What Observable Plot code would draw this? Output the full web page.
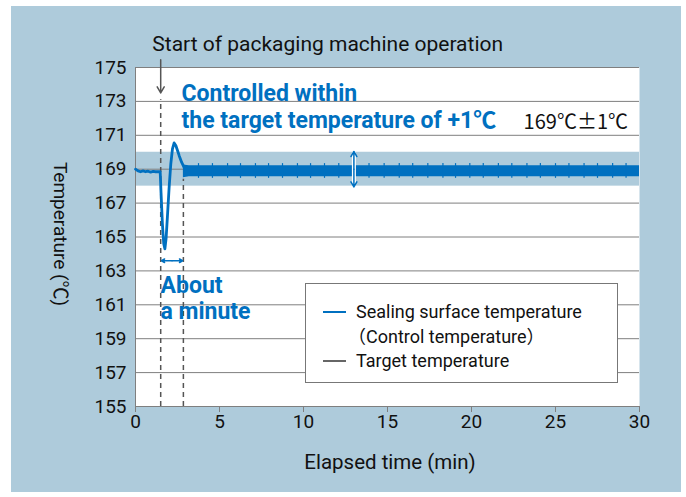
<!DOCTYPE html>
<html><head><meta charset="utf-8">
<script src="https://cdn.jsdelivr.net/npm/d3@7"></script>
<script src="https://cdn.jsdelivr.net/npm/@observablehq/plot@0.6"></script>
<style>
body{margin:0;font-family:Roboto,"Noto Sans CJK JP",sans-serif;}
#wrap{position:relative;width:686px;height:497px;background:#fff;overflow:hidden}
#bg{position:absolute;left:11px;top:6px;width:670px;height:486px;background:#aecbdb}
#chart{position:absolute;left:0;top:0}
#legend{position:absolute;left:305px;top:283px;width:311px;height:98px;background:#fff;border:1.5px solid #777;font-size:18px;color:#111}
.lrow{position:absolute;left:17px;display:flex;align-items:center;white-space:nowrap}
.sw{width:23px;height:2px;margin-right:10px}
#ylab{position:absolute;left:62px;top:234px;transform:translate(-50%,-50%) rotate(90deg);font-size:19px;white-space:nowrap;color:#111}
#xlab{position:absolute;left:390px;top:462px;transform:translate(-50%,-50%);font-size:20.5px;white-space:nowrap;color:#111}
</style></head>
<body>
<div id="wrap">
<div id="bg"></div>
<div id="chart"></div>
<div id="legend">
  <div class="lrow" style="top:17px"><div class="sw" style="background:#0070c0"></div><span>Sealing surface temperature</span></div>
  <div class="lrow" style="top:38px;left:42px"><span>（Control temperature）</span></div>
  <div class="lrow" style="top:66px"><div class="sw" style="background:#666"></div><span>Target temperature</span></div>
</div>
<div id="ylab">Temperature (℃)</div>
<div id="xlab">Elapsed time (min)</div>
</div>
<script>
// ---- data ----
const xTicks = [0, 5, 10, 15, 20, 25, 30];
const yTicks = [155, 157, 159, 161, 163, 165, 167, 169, 171, 173, 175];
const targetBand = [168, 170];          // 169 ± 1 ℃
const startTime = 1.5;                  // machine start
const settleTime = 2.85;                // back within band
// before start + transient (min, ℃)
const traceT = [0, 0.15, 0.3, 0.45, 0.6, 0.75, 0.9, 1.05, 1.2, 1.35, 1.47, 1.52, 1.6, 1.68, 1.75, 1.82, 1.9, 2.0, 2.1, 2.2, 2.3, 2.4, 2.5, 2.6, 2.75, 2.9, 3.0];
const traceV = [169.0, 168.9, 168.85, 168.9, 168.85, 168.88, 168.83, 168.87, 168.85, 168.85, 168.85, 167.6, 165.8, 164.6, 164.3, 164.9, 166.2, 167.9, 169.3, 170.2, 170.55, 170.4, 170.1, 169.8, 169.4, 169.1, 168.95];
// envelope of the controlled (noisy) signal
const envT = [2.85, 3.2, 4, 10, 20, 30];
const envHi = [169.25, 169.2, 169.2, 169.2, 169.2, 169.2];
const envLo = [168.5, 168.55, 168.55, 168.55, 168.55, 168.55];
// small spikes seen in the signal
const spikeT = [3.75, 4.58, 5.48, 6.25, 7.14, 7.92, 8.75, 9.64, 10.42, 11.25, 12.1, 13.0, 13.9, 14.8, 15.7, 16.5, 17.4, 18.3, 19.05, 19.9, 20.7, 21.6, 22.4, 23.3, 24.1, 25.0, 25.8, 26.7, 27.5, 28.4, 29.2];
const spikeHi = 169.33, spikeLo = 168.46;

const blue = "#0070c0";
const trace = traceT.map((t, i) => ({t, v: traceV[i]}));
const env = envT.map((t, i) => ({t, hi: envHi[i], lo: envLo[i]}));
const spikes = spikeT.map(t => ({t}));

const boldNotes = [
  {x: 2.74, y: 173.43, text: "Controlled within"},
  {x: 2.74, y: 171.84, text: "the target temperature of +1℃"},
  {x: 1.49, y: 162.16, text: "About"},
  {x: 1.49, y: 160.61, text: "a minute"}
];
const plainNotes = [
  {x: 1.0, y: 176.36, text: "Start of packaging machine operation"}
];
const bandNote = [{x: 23.1, y: 171.76, text: "169℃±1℃"}];

const chart = Plot.plot({
  width: 686, height: 497,
  marginLeft: 135, marginRight: 47, marginTop: 67, marginBottom: 91,
  style: {background: "transparent", fontFamily: "Roboto, 'Noto Sans CJK JP', sans-serif", fontSize: "19px", color: "#111"},
  x: {domain: [0, 30]},
  y: {domain: [155, 175]},
  marks: [
    Plot.frame({fill: "white", stroke: null}),
    Plot.rect([targetBand], {x1: () => 0, x2: () => 30, y1: d => d[0], y2: d => d[1], fill: "#aecbdb"}),
    Plot.ruleY(yTicks, {stroke: "#7f7f7f", strokeWidth: 1}),
    Plot.ruleX([0], {stroke: "#7f7f7f", strokeWidth: 1}),
    Plot.axisX({ticks: xTicks, tickSize: 6, tickPadding: 2, label: null, fontSize: 19, stroke: "#7f7f7f"}),
    Plot.axisY({ticks: yTicks, tickSize: 0, tickPadding: 9, label: null, fontSize: 19}),
    // dashed markers
    Plot.ruleX([startTime], {y1: 155, y2: 173.1, stroke: "#555", strokeWidth: 1.5, strokeDasharray: "5,4"}),
    Plot.ruleX([settleTime], {y1: 155, y2: 168.4, stroke: "#555", strokeWidth: 1.5, strokeDasharray: "5,4"}),
    Plot.arrow([startTime], {x1: d => d, x2: d => d, y1: () => 175.45, y2: () => 173.5, stroke: "#555", strokeWidth: 1.5, headLength: 7}),
    // signal
    Plot.areaY(env, {x: "t", y1: "lo", y2: "hi", fill: blue, curve: "linear"}),
    Plot.ruleX(spikes, {x: "t", y1: () => spikeLo, y2: () => spikeHi, stroke: blue, strokeWidth: 1.2}),
    Plot.line(trace, {x: "t", y: "v", stroke: blue, strokeWidth: 2.8}),
    // vertical double arrow at 13 min (white outline then blue)
    Plot.ruleX([13], {y1: 168, y2: 170, stroke: "white", strokeWidth: 4}),
    Plot.arrow([13], {x1: d => d, x2: d => d, y1: () => 169, y2: () => 170.05, stroke: blue, strokeWidth: 1.5, headLength: 6}),
    Plot.arrow([13], {x1: d => d, x2: d => d, y1: () => 169, y2: () => 167.95, stroke: blue, strokeWidth: 1.5, headLength: 6}),
    // horizontal double arrow "about a minute"
    Plot.arrow([163.6], {x1: () => (startTime + settleTime) / 2, x2: () => startTime + 0.05, y1: d => d, y2: d => d, stroke: blue, strokeWidth: 1.5, headLength: 5}),
    Plot.arrow([163.6], {x1: () => (startTime + settleTime) / 2, x2: () => settleTime - 0.05, y1: d => d, y2: d => d, stroke: blue, strokeWidth: 1.5, headLength: 5}),
    // annotations
    Plot.text(boldNotes, {x: "x", y: "y", text: "text", fill: blue, fontWeight: "bold", fontSize: 23, textAnchor: "start", lineAnchor: "middle"}),
    Plot.text(plainNotes, {x: "x", y: "y", text: "text", fill: "#111", fontSize: 21, textAnchor: "start", lineAnchor: "middle"}),
    Plot.text(bandNote, {x: "x", y: "y", text: "text", fill: "#111", fontSize: 20, fontFamily: "'Noto Sans CJK JP', sans-serif", textAnchor: "start", lineAnchor: "middle"})
  ]
});
document.getElementById("chart").appendChild(chart);
</script>
</body></html>
